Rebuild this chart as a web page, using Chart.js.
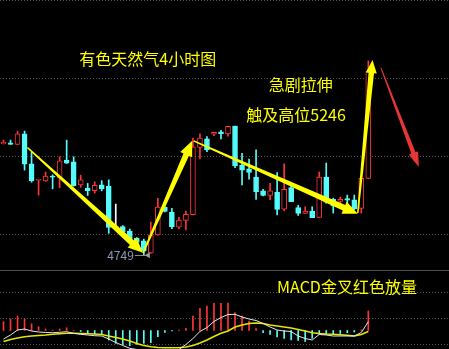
<!DOCTYPE html>
<html lang="zh-CN">
<head>
<meta charset="utf-8">
<title>有色天然气4小时图</title>
<script src="https://cdn.jsdelivr.net/npm/chart.js@4.4.1/dist/chart.umd.min.js"></script>
<style>
  html, body { margin: 0; padding: 0; background: #000; }
  #wrap { position: relative; width: 449px; height: 349px; overflow: hidden; }
  #klineBox { position: absolute; left: 0; top: 0; width: 449px; height: 270px; }
  #sep { position: absolute; left: 0; top: 270px; width: 449px; height: 1px; background: #4d4d4d; }
  #macdBox { position: absolute; left: 0; top: 271px; width: 449px; height: 78px; }
</style>
</head>
<body>
<div id="wrap">
  <div id="klineBox"><canvas id="kline"></canvas></div>
  <div id="sep"></div>
  <div id="macdBox"><canvas id="macd"></canvas></div>
</div>
<script>
/* ===== dados (4h) ===== */
const opens  = [5033,5036,5032,5059,4982,4940,4938,4951,4946,4992,4987,4928,4920,4913,4928,4925,4819,4821,4810,4792,4785,4754,4800,4871,4858,4820,4837,4852,5024,5046,5058,5064,5059,5079,4979,4969,4948,4913,4901,4910,4866,4921,4870,4855,4861,4845,4948,4891,4886,4893,4890,4868,4945];
const highs  = [5043,5043,5066,5066,5012,4941,4961,4954,5000,5043,5000,4953,4932,4936,4939,4941,4879,4824,4815,4793,4789,4833,4894,4872,4868,4845,4861,5048,5059,5052,5063,5068,5078,5079,5009,4994,5018,4917,4932,4960,4982,4932,4876,4872,4872,4961,4984,4894,4897,4902,4902,4945,5246];
const lows   = [5033,5032,5031,4966,4935,4902,4937,4918,4921,4983,4925,4922,4901,4907,4913,4804,4817,4800,4787,4777,4749,4753,4799,4859,4816,4816,4813,4851,4995,5013,5054,5046,5053,4972,4928,4943,4891,4900,4890,4851,4862,4885,4850,4855,4844,4845,4881,4856,4881,4881,4864,4856,4944];
const closes = [5037,5032,5059,4981,4938,4941,4951,4948,4990,4984,4926,4941,4913,4927,4918,4819,4819,4808,4790,4781,4758,4800,4871,4860,4821,4838,4853,5026,5048,5018,5063,5059,5078,4977,4966,4960,4911,4901,4913,4865,4917,4885,4855,4861,4844,4948,4884,4874,4891,4889,4867,4945,5220];

const macdHist = [8.8,11.5,14.5,11.5,6.8,3.8,1.5,0.3,1.5,2.8,0.2,-1,-2.8,-3.5,-4,-9.5,-12.8,-14,-15.2,-13.8,-12.8,-12.2,-6.2,-1.8,-0.5,0.5,2.2,14.5,22.2,24.5,27.2,27.2,27.5,18,14.5,9.5,1.8,-2.2,-4,-6.5,-8,-9.5,-10,-11,-7.8,-3.8,-3.8,-3.5,-3,-2.2,-1.5,0.7,19.5];
const macdDif  = [-8.5,-4.5,0.5,1.5,-0.5,-1.5,-2,-2.2,-1.8,-1.2,-2.8,-3.8,-4.5,-5.2,-5.5,-8.5,-12,-15,-17.8,-19,-19.5,-20,-20,-20,-19.5,-19,-14,-8,-1,3,9,13,16,16.2,13.5,11.5,10,7,3.5,0.5,-0.5,-1,-5.5,-8,-9.5,-4,-4.5,-5.5,-5.5,-5.5,-5.5,-2,8.8];
const macdDea  = [-11,-9,-7.5,-6.3,-5.5,-5,-4.5,-3.8,-3.2,-2.8,-2.8,-3,-3.2,-3.5,-4,-5.5,-7,-8.5,-10.5,-13,-15,-16.2,-17,-17.2,-17.2,-17.2,-16.5,-15,-12.5,-9.5,-6,-2.8,-0.5,3.5,5.5,7,7.5,7,5.5,4.5,3.5,2.5,1,-0.5,-2.2,-3,-3.5,-3.8,-4.2,-4.8,-5.5,-4,-1];

const priceGrid = [4800, 5000, 5200, 5400];
const macdGrid  = [-14, 12, 38];

/* ===== anotações (em coordenadas do gráfico: índice, preço) ===== */
const arrows = [
  { from: [3.4, 5024],  to: [19.9, 4754], color: "#ffff00", tail: 1.5, neck: 6, wing: 13, head: 15 },
  { from: [19.9, 4754], to: [26.9, 5041], color: "#ffff00", tail: 1.5, neck: 6, wing: 13, head: 15 },
  { from: [27.1, 5041], to: [50.5, 4854], color: "#ffff00", tail: 1.5, neck: 6, wing: 13, head: 15 },
  { from: [50.5, 4856], to: [52.6, 5248], color: "#ffff00", tail: 1.5, neck: 5.5, wing: 11, head: 13 },
  { from: [53.8, 5228], to: [59.2, 4974], color: "#e83535", tail: 1, neck: 4.5, wing: 10, head: 15 }
];
const notes = [
  { text: "有色天然气4小时图", at: [10.8, 5251] },
  { text: "急剧拉伸",         at: [37.8, 5184] },
  { text: "触及高位5246",     at: [34.6, 5107] }
];
const macdNote = { text: "MACD金叉红色放量", at: [39, 44] };

/* ===== estilo ===== */
const FONT = '"Noto Sans CJK SC", "Noto Sans", sans-serif';
const RED = "#ff3434", CYAN = "#54fcfc", FLAT = "#ffffff";
const X_MIN = -0.5, X_MAX = 63.5;

function candleColor(i) {
  if (closes[i] > opens[i]) return RED;
  if (closes[i] < opens[i]) return CYAN;
  return FLAT;
}

function gridAxis(levels, min, max) {
  return {
    position: "right",
    min, max,
    beginAtZero: false,
    ticks: { display: false },
    grid: { color: "#555555", drawTicks: false, lineWidth: 1 },
    border: { display: false, dash: [1, 2] },
    afterBuildTicks: s => { s.ticks = levels.map(v => ({ value: v })); }
  };
}

function xAxis() {
  return { type: "linear", min: X_MIN, max: X_MAX, offset: false, display: false };
}

function drawArrow(ctx, [x1, y1], [x2, y2], o) {
  const len = Math.hypot(x2 - x1, y2 - y1);
  const ux = (x2 - x1) / len, uy = (y2 - y1) / len;
  const nx = -uy, ny = ux;
  const bx = x2 - ux * o.head, by = y2 - uy * o.head;
  const pts = [
    [x1 + nx * o.tail / 2, y1 + ny * o.tail / 2],
    [bx + nx * o.neck / 2, by + ny * o.neck / 2],
    [bx + nx * o.wing / 2, by + ny * o.wing / 2],
    [x2, y2],
    [bx - nx * o.wing / 2, by - ny * o.wing / 2],
    [bx - nx * o.neck / 2, by - ny * o.neck / 2],
    [x1 - nx * o.tail / 2, y1 - ny * o.tail / 2]
  ];
  ctx.beginPath();
  pts.forEach(([px, py], k) => k ? ctx.lineTo(px, py) : ctx.moveTo(px, py));
  ctx.closePath();
  ctx.fillStyle = o.color;
  ctx.fill();
}

/* setas, textos e marca da mínima */
const annotate = {
  id: "annotate",
  afterDatasetsDraw(chart) {
    const { ctx, scales: { x, y } } = chart;
    const px = p => [x.getPixelForValue(p[0]), y.getPixelForValue(p[1])];
    ctx.save();

    // mínima do período
    const low = Math.min(...lows);
    const [lx, ly] = px([lows.indexOf(low), low]);
    ctx.strokeStyle = "#8c8c8c";
    ctx.lineWidth = 1;
    ctx.beginPath();
    ctx.moveTo(lx - 9, Math.round(ly) + 0.5);
    ctx.lineTo(lx + 2, Math.round(ly) + 0.5);
    ctx.stroke();
    ctx.fillStyle = "#a0a0a0";
    ctx.beginPath();
    ctx.moveTo(lx + 1, ly + 0.5);
    ctx.lineTo(lx + 6, ly - 2.5);
    ctx.lineTo(lx + 6, ly + 3.5);
    ctx.closePath();
    ctx.fill();
    ctx.font = "12px " + FONT;
    ctx.fillStyle = "#8a9ab2";
    ctx.textAlign = "right";
    ctx.textBaseline = "middle";
    ctx.fillText(String(low), lx - 10, ly + 1);

    arrows.forEach(a => drawArrow(ctx, px(a.from), px(a.to), a));

    ctx.font = "16px " + FONT;
    ctx.fillStyle = "#ffff00";
    ctx.textAlign = "left";
    notes.forEach(n => {
      const [tx, ty] = px(n.at);
      ctx.fillText(n.text, tx, ty);
    });
    ctx.restore();
  }
};

const macdLabel = {
  id: "macdLabel",
  afterDatasetsDraw(chart) {
    const { ctx, scales: { x, y } } = chart;
    ctx.save();
    ctx.font = "16px " + FONT;
    ctx.fillStyle = "#ffff00";
    ctx.textAlign = "left";
    ctx.textBaseline = "middle";
    ctx.fillText(macdNote.text, x.getPixelForValue(macdNote.at[0]), y.getPixelForValue(macdNote.at[1]));
    ctx.restore();
  }
};

const commonOptions = {
  responsive: true,
  maintainAspectRatio: false,
  animation: false,
  events: [],
  layout: { padding: 0 },
  plugins: { legend: { display: false }, tooltip: { enabled: false } }
};

/* ===== gráfico de velas ===== */
new Chart(document.getElementById("kline").getContext("2d"), {
  type: "bar",
  data: {
    datasets: [
      {
        // sombras
        data: highs.map((h, i) => ({ x: i, y: [lows[i], h] })),
        backgroundColor: highs.map((_, i) => candleColor(i)),
        barThickness: 1,
        grouped: false,
        minBarLength: 1,
        order: 2
      },
      {
        // corpos (alta vazada)
        data: opens.map((o, i) => ({ x: i, y: [o, closes[i]] })),
        backgroundColor: opens.map((_, i) => closes[i] > opens[i] ? "#000000" : candleColor(i)),
        borderColor: opens.map((_, i) => candleColor(i)),
        borderWidth: 1,
        borderSkipped: false,
        barThickness: 5,
        minBarLength: 1,
        grouped: false,
        order: 1
      }
    ]
  },
  options: {
    ...commonOptions,
    scales: { x: xAxis(), y: gridAxis(priceGrid, 4710, 5402) }
  },
  plugins: [annotate]
});

/* ===== MACD ===== */
new Chart(document.getElementById("macd").getContext("2d"), {
  type: "bar",
  data: {
    datasets: [
      {
        type: "line",
        data: macdDif.map((v, i) => ({ x: i, y: v })),
        borderColor: "#e8e8e8",
        borderWidth: 1,
        pointRadius: 0,
        tension: 0,
        order: 1
      },
      {
        type: "line",
        data: macdDea.map((v, i) => ({ x: i, y: v })),
        borderColor: "#e6e600",
        borderWidth: 1.6,
        pointRadius: 0,
        tension: 0,
        order: 2
      },
      {
        data: macdHist.map((v, i) => ({ x: i, y: v })),
        backgroundColor: macdHist.map(v => v >= 0 ? RED : CYAN),
        barThickness: 1,
        grouped: false,
        order: 3
      }
    ]
  },
  options: {
    ...commonOptions,
    scales: { x: xAxis(), y: gridAxis(macdGrid, -18.5, 59.5) }
  },
  plugins: [macdLabel]
});
</script>
</body>
</html>
